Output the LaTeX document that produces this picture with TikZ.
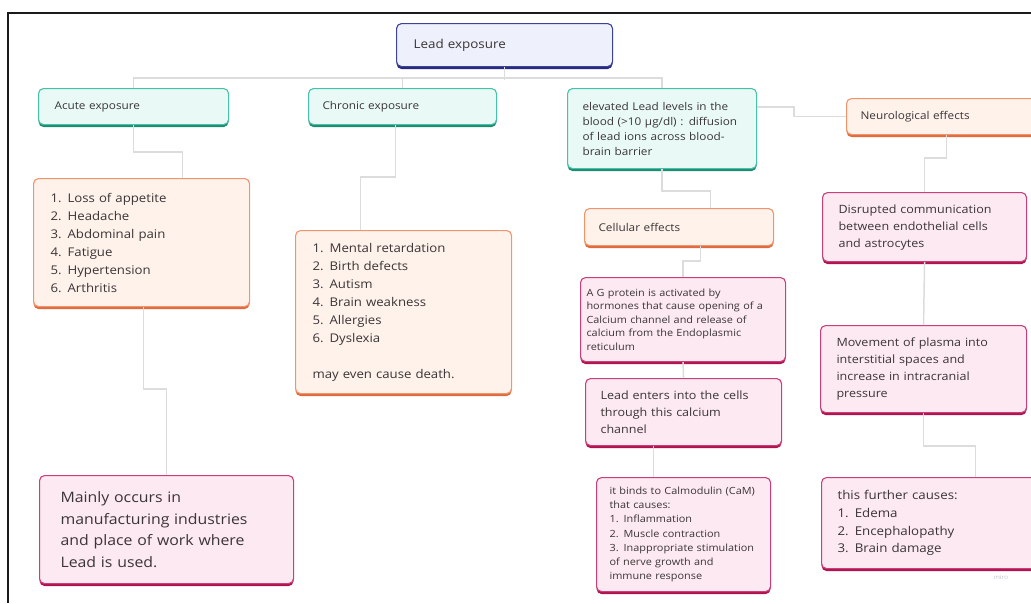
\documentclass[tikz,border=0pt]{standalone}
\usepackage{fontspec}
\setmainfont[FakeStretch=1.1]{Open Sans}
\usetikzlibrary{shadows}

\definecolor{navyline}{HTML}{3D4399}
\definecolor{navydark}{HTML}{262A80}
\definecolor{navyfill}{HTML}{EEF0FB}
\definecolor{tealline}{HTML}{45C2AA}
\definecolor{tealdark}{HTML}{1E8A6E}
\definecolor{tealfill}{HTML}{E9FAF6}
\definecolor{orgline}{HTML}{F0946C}
\definecolor{orgdark}{HTML}{DF6A3D}
\definecolor{orgfill}{HTML}{FFF2EB}
\definecolor{magline}{HTML}{C8407A}
\definecolor{magdark}{HTML}{B0124F}
\definecolor{magfill}{HTML}{FDE9F1}
\definecolor{txt}{HTML}{3A3537}
\definecolor{connc}{HTML}{DCDCDC}
\definecolor{framec}{HTML}{1A1A1A}
\definecolor{markc}{HTML}{BFC7CF}

\tikzset{
  box/.style={draw, line width=1.1pt, rounded corners=5pt, anchor=north west,
    inner ysep=0pt, align=left, text=txt},
  navybox/.style={box, draw=navyline, fill=navyfill,
    drop shadow={shadow xshift=0pt, shadow yshift=-2.5pt, fill=navydark, opacity=1}},
  tealbox/.style={box, draw=tealline, fill=tealfill,
    drop shadow={shadow xshift=0pt, shadow yshift=-2.5pt, fill=tealdark, opacity=1}},
  orgbox/.style={box, draw=orgline, fill=orgfill,
    drop shadow={shadow xshift=0pt, shadow yshift=-2.5pt, fill=orgdark, opacity=1}},
  magbox/.style={box, draw=magline, fill=magfill,
    drop shadow={shadow xshift=0pt, shadow yshift=-2.5pt, fill=magdark, opacity=1}},
  leadfont/.style={font=\fontsize{12.2}{15}\selectfont},
  labfont/.style={font=\fontsize{10.7}{15}\selectfont},
  listfont/.style={font=\fontsize{12}{18}\selectfont},
  midfont/.style={font=\fontsize{11.4}{17}\selectfont},
  bigfont/.style={font=\fontsize{14.4}{21.7}\selectfont},
  furtherfont/.style={font=\fontsize{12.1}{17.8}\selectfont},
  smallfont/.style={font=\fontsize{9.9}{13.4}\selectfont},
  conn/.style={draw=connc, line width=1.5pt},
}

\begin{document}
\begin{tikzpicture}[x=1pt,y=-1pt]
\useasboundingbox (0,0) rectangle (1031,603);
\clip (0,0) rectangle (1031,603);

% outer frame (top and left edges)
\draw[framec, line width=2pt] (8,603) -- (8,13) -- (1031,13);

% boxes
\node[navybox, leadfont, inner xsep=17pt,
  minimum width=216pt, minimum height=43pt, text width=182pt]
  (lead) at (396,23) {Lead exposure};

\node[tealbox, labfont, inner xsep=16pt, minimum width=190pt,
  minimum height=36pt, text width=158pt] (acute) at (38,88) {Acute exposure};
\node[tealbox, labfont, inner xsep=14pt, minimum width=188pt,
  minimum height=36pt, text width=160pt] (chronic) at (308,88) {Chronic exposure};
\node[tealbox, labfont, inner xsep=15pt, minimum width=189pt,
  minimum height=80pt, text width=159pt] (elev) at (567,88)
  {elevated Lead levels in the\\blood (>10 µg/dl) : diffusion\\of lead ions across blood-\\brain barrier};
\node[orgbox, labfont, inner xsep=14pt, minimum width=200pt,
  minimum height=36pt, text width=172pt] (neuro) at (846,98) {Neurological effects};

\node[orgbox, listfont, inner xsep=17pt, minimum width=216pt,
  minimum height=128pt, text width=182pt] (list1) at (33,178)
  {1. Loss of appetite\\2. Headache\\3. Abdominal pain\\4. Fatigue\\5. Hypertension\\6. Arthritis};
\node[orgbox, listfont, inner xsep=17pt, minimum width=216pt,
  minimum height=163pt, text width=182pt] (list2) at (295,230)
  {1. Mental retardation\\2. Birth defects\\3. Autism\\4. Brain weakness\\5. Allergies\\6. Dyslexia\\[18pt]may even cause death.};
\node[magbox, bigfont, inner xsep=21pt, minimum width=254pt,
  minimum height=108pt, text width=212pt] (mainly) at (39,475)
  {Mainly occurs in\\manufacturing industries\\and place of work where\\Lead is used.};

\node[orgbox, labfont, inner xsep=14pt, minimum width=189pt,
  minimum height=37pt, text width=161pt] (cell) at (584,208) {Cellular effects};
\node[magbox, smallfont, inner xsep=6pt, minimum width=205pt,
  minimum height=84pt, text width=193pt] (gprot) at (580,277)
  {A G protein is activated by\\hormones that cause opening of a\\Calcium channel and release of\\calcium from the Endoplasmic\\reticulum};
\node[magbox, midfont, inner xsep=15pt, minimum width=196pt,
  minimum height=67pt, text width=166pt] (enter) at (585,378)
  {Lead enters into the cells\\through this calcium\\channel};
\node[magbox, font=\fontsize{9.9}{14.2}\selectfont, inner xsep=13pt,
  minimum width=174pt, minimum height=114pt, text width=148pt] (binds) at (596,477)
  {it binds to Calmodulin (CaM)\\that causes:\\1. Inflammation\\2. Muscle contraction\\3. Inappropriate stimulation\\of nerve growth and\\immune response};

\node[magbox, midfont, inner xsep=16pt, minimum width=204pt,
  minimum height=69pt, text width=172pt] (disr) at (822,192)
  {Disrupted communication\\between endothelial cells\\and astrocytes};
\node[magbox, midfont, inner xsep=16pt, minimum width=206pt,
  minimum height=87pt, text width=174pt] (move) at (820,325)
  {Movement of plasma into\\interstitial spaces and\\increase in intracranial\\pressure};
\node[magbox, furtherfont, inner xsep=16pt, minimum width=215pt,
  minimum height=91pt, text width=183pt] (further) at (821,477)
  {this further causes:\\1. Edema\\2. Encephalopathy\\3. Brain damage};

% board mark
\node[text=markc, font=\fontsize{6}{7}\selectfont, anchor=center] (mark) at (1001,577) {miro};

% connectors
\draw[conn] (acute.north) -- ++(0,-10) -| (elev.north);
\draw[conn] (chronic.north) -- ++(0,-10);
\draw[conn] (lead.south) -- ++(0,12.5);
\draw[conn] ([yshift=-19pt]elev.north east) -- ++(37,0) |- (neuro.west);
\draw[conn] (acute.south) -- ++(0,27) -| ([xshift=41pt]list1.north);
\draw[conn] ([xshift=2pt]list1.south) -- ++(0,82) -| (mainly.north);
\draw[conn] ([xshift=-7pt]chronic.south) -- ++(0,52) -| ([xshift=-43pt]list2.north);
\draw[conn] (elev.south) -- ++(0,22) -| ([xshift=31.5pt]cell.north);
\draw[conn] ([xshift=21.5pt]cell.south) -- ++(0,15) -| (gprot.north);
\draw[conn] (gprot.south) -- (enter.north);
\draw[conn] ([xshift=-30pt]enter.south) -- ([xshift=-30pt]binds.north);
\draw[conn] (neuro.south) -- ++(0,23) -| (disr.north);
\draw[conn] (disr.south) -- (move.north);
\draw[conn] (move.south) -- ++(0,33) -| ([xshift=46.5pt]further.north);
\end{tikzpicture}
\end{document}
